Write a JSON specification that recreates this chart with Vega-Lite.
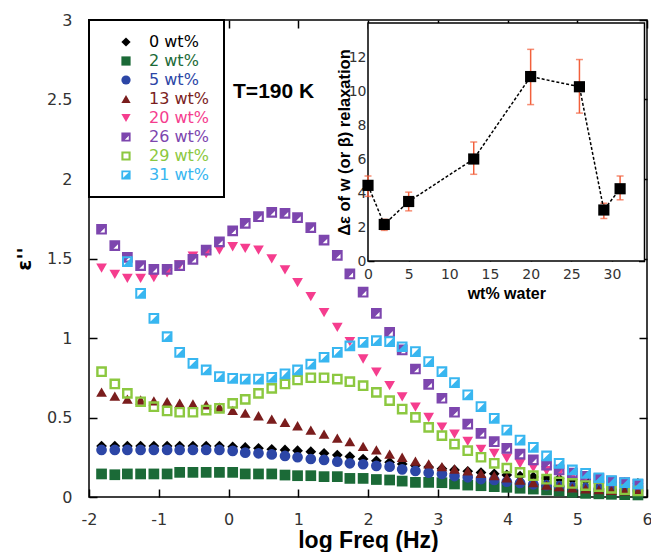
{
"$schema": "https://vega.github.io/schema/vega-lite/v6.json",
"width": 558, "height": 477,
"autosize": "none",
"padding": {"left": 89, "top": 20, "right": 4, "bottom": 55},
"background": "white",
"datasets": {
"main": [
{"s":"0 wt%","f":-1.82,"e":0.32},{"s":"0 wt%","f":-1.63,"e":0.32},{"s":"0 wt%","f":-1.45,"e":0.32},{"s":"0 wt%","f":-1.26,"e":0.32},{"s":"0 wt%","f":-1.07,"e":0.32},{"s":"0 wt%","f":-0.88,"e":0.32},{"s":"0 wt%","f":-0.7,"e":0.32},{"s":"0 wt%","f":-0.51,"e":0.32},{"s":"0 wt%","f":-0.32,"e":0.32},{"s":"0 wt%","f":-0.13,"e":0.32},{"s":"0 wt%","f":0.06,"e":0.316},{"s":"0 wt%","f":0.24,"e":0.312},{"s":"0 wt%","f":0.43,"e":0.306},{"s":"0 wt%","f":0.62,"e":0.3},{"s":"0 wt%","f":0.81,"e":0.296},{"s":"0 wt%","f":0.99,"e":0.291},{"s":"0 wt%","f":1.18,"e":0.285},{"s":"0 wt%","f":1.37,"e":0.275},{"s":"0 wt%","f":1.56,"e":0.264},{"s":"0 wt%","f":1.74,"e":0.254},{"s":"0 wt%","f":1.93,"e":0.239},{"s":"0 wt%","f":2.12,"e":0.228},{"s":"0 wt%","f":2.31,"e":0.218},{"s":"0 wt%","f":2.49,"e":0.208},{"s":"0 wt%","f":2.68,"e":0.198},{"s":"0 wt%","f":2.87,"e":0.188},{"s":"0 wt%","f":3.06,"e":0.178},{"s":"0 wt%","f":3.24,"e":0.17},{"s":"0 wt%","f":3.43,"e":0.162},{"s":"0 wt%","f":3.62,"e":0.154},{"s":"0 wt%","f":3.81,"e":0.146},{"s":"0 wt%","f":3.99,"e":0.139},{"s":"0 wt%","f":4.18,"e":0.132},{"s":"0 wt%","f":4.37,"e":0.126},{"s":"0 wt%","f":4.56,"e":0.12},{"s":"0 wt%","f":4.74,"e":0.115},{"s":"0 wt%","f":4.93,"e":0.11},{"s":"0 wt%","f":5.12,"e":0.105},{"s":"0 wt%","f":5.31,"e":0.1},{"s":"0 wt%","f":5.49,"e":0.095},{"s":"0 wt%","f":5.68,"e":0.09},{"s":"0 wt%","f":5.87,"e":0.085},
{"s":"2 wt%","f":-1.82,"e":0.145},{"s":"2 wt%","f":-1.63,"e":0.14},{"s":"2 wt%","f":-1.45,"e":0.145},{"s":"2 wt%","f":-1.26,"e":0.145},{"s":"2 wt%","f":-1.07,"e":0.145},{"s":"2 wt%","f":-0.88,"e":0.145},{"s":"2 wt%","f":-0.7,"e":0.155},{"s":"2 wt%","f":-0.51,"e":0.155},{"s":"2 wt%","f":-0.32,"e":0.155},{"s":"2 wt%","f":-0.13,"e":0.155},{"s":"2 wt%","f":0.06,"e":0.155},{"s":"2 wt%","f":0.24,"e":0.145},{"s":"2 wt%","f":0.43,"e":0.145},{"s":"2 wt%","f":0.62,"e":0.145},{"s":"2 wt%","f":0.81,"e":0.138},{"s":"2 wt%","f":0.99,"e":0.134},{"s":"2 wt%","f":1.18,"e":0.134},{"s":"2 wt%","f":1.37,"e":0.128},{"s":"2 wt%","f":1.56,"e":0.128},{"s":"2 wt%","f":1.74,"e":0.117},{"s":"2 wt%","f":1.93,"e":0.117},{"s":"2 wt%","f":2.12,"e":0.11},{"s":"2 wt%","f":2.31,"e":0.107},{"s":"2 wt%","f":2.49,"e":0.1},{"s":"2 wt%","f":2.68,"e":0.092},{"s":"2 wt%","f":2.87,"e":0.092},{"s":"2 wt%","f":3.06,"e":0.09},{"s":"2 wt%","f":3.24,"e":0.082},{"s":"2 wt%","f":3.43,"e":0.075},{"s":"2 wt%","f":3.62,"e":0.071},{"s":"2 wt%","f":3.81,"e":0.065},{"s":"2 wt%","f":3.99,"e":0.061},{"s":"2 wt%","f":4.18,"e":0.055},{"s":"2 wt%","f":4.37,"e":0.05},{"s":"2 wt%","f":4.56,"e":0.044},{"s":"2 wt%","f":4.74,"e":0.038},{"s":"2 wt%","f":4.93,"e":0.03},{"s":"2 wt%","f":5.12,"e":0.023},{"s":"2 wt%","f":5.31,"e":0.02},{"s":"2 wt%","f":5.49,"e":0.017},{"s":"2 wt%","f":5.68,"e":0.015},{"s":"2 wt%","f":5.87,"e":0.013},
{"s":"5 wt%","f":-1.82,"e":0.296},{"s":"5 wt%","f":-1.63,"e":0.296},{"s":"5 wt%","f":-1.45,"e":0.296},{"s":"5 wt%","f":-1.26,"e":0.296},{"s":"5 wt%","f":-1.07,"e":0.296},{"s":"5 wt%","f":-0.88,"e":0.296},{"s":"5 wt%","f":-0.7,"e":0.296},{"s":"5 wt%","f":-0.51,"e":0.296},{"s":"5 wt%","f":-0.32,"e":0.296},{"s":"5 wt%","f":-0.13,"e":0.296},{"s":"5 wt%","f":0.06,"e":0.29},{"s":"5 wt%","f":0.24,"e":0.279},{"s":"5 wt%","f":0.43,"e":0.275},{"s":"5 wt%","f":0.62,"e":0.268},{"s":"5 wt%","f":0.81,"e":0.258},{"s":"5 wt%","f":0.99,"e":0.25},{"s":"5 wt%","f":1.18,"e":0.239},{"s":"5 wt%","f":1.37,"e":0.233},{"s":"5 wt%","f":1.56,"e":0.222},{"s":"5 wt%","f":1.74,"e":0.212},{"s":"5 wt%","f":1.93,"e":0.206},{"s":"5 wt%","f":2.12,"e":0.196},{"s":"5 wt%","f":2.31,"e":0.191},{"s":"5 wt%","f":2.49,"e":0.174},{"s":"5 wt%","f":2.68,"e":0.164},{"s":"5 wt%","f":2.87,"e":0.153},{"s":"5 wt%","f":3.06,"e":0.145},{"s":"5 wt%","f":3.24,"e":0.132},{"s":"5 wt%","f":3.43,"e":0.124},{"s":"5 wt%","f":3.62,"e":0.113},{"s":"5 wt%","f":3.81,"e":0.107},{"s":"5 wt%","f":3.99,"e":0.096},{"s":"5 wt%","f":4.18,"e":0.088},{"s":"5 wt%","f":4.37,"e":0.08},{"s":"5 wt%","f":4.56,"e":0.074},{"s":"5 wt%","f":4.74,"e":0.068},{"s":"5 wt%","f":4.93,"e":0.062},{"s":"5 wt%","f":5.12,"e":0.057},{"s":"5 wt%","f":5.31,"e":0.052},{"s":"5 wt%","f":5.49,"e":0.048},{"s":"5 wt%","f":5.68,"e":0.044},{"s":"5 wt%","f":5.87,"e":0.04},
{"s":"13 wt%","f":-1.82,"e":0.66},{"s":"13 wt%","f":-1.63,"e":0.635},{"s":"13 wt%","f":-1.45,"e":0.615},{"s":"13 wt%","f":-1.26,"e":0.61},{"s":"13 wt%","f":-1.07,"e":0.605},{"s":"13 wt%","f":-0.88,"e":0.6},{"s":"13 wt%","f":-0.7,"e":0.59},{"s":"13 wt%","f":-0.51,"e":0.585},{"s":"13 wt%","f":-0.32,"e":0.58},{"s":"13 wt%","f":-0.13,"e":0.565},{"s":"13 wt%","f":0.06,"e":0.545},{"s":"13 wt%","f":0.24,"e":0.527},{"s":"13 wt%","f":0.43,"e":0.511},{"s":"13 wt%","f":0.62,"e":0.49},{"s":"13 wt%","f":0.81,"e":0.47},{"s":"13 wt%","f":0.99,"e":0.448},{"s":"13 wt%","f":1.18,"e":0.421},{"s":"13 wt%","f":1.37,"e":0.396},{"s":"13 wt%","f":1.56,"e":0.37},{"s":"13 wt%","f":1.74,"e":0.348},{"s":"13 wt%","f":1.93,"e":0.318},{"s":"13 wt%","f":2.12,"e":0.296},{"s":"13 wt%","f":2.31,"e":0.27},{"s":"13 wt%","f":2.49,"e":0.25},{"s":"13 wt%","f":2.68,"e":0.226},{"s":"13 wt%","f":2.87,"e":0.208},{"s":"13 wt%","f":3.06,"e":0.191},{"s":"13 wt%","f":3.24,"e":0.176},{"s":"13 wt%","f":3.43,"e":0.164},{"s":"13 wt%","f":3.62,"e":0.149},{"s":"13 wt%","f":3.81,"e":0.134},{"s":"13 wt%","f":3.99,"e":0.121},{"s":"13 wt%","f":4.18,"e":0.107},{"s":"13 wt%","f":4.37,"e":0.09},{"s":"13 wt%","f":4.56,"e":0.075},{"s":"13 wt%","f":4.74,"e":0.065},{"s":"13 wt%","f":4.93,"e":0.058},{"s":"13 wt%","f":5.12,"e":0.052},{"s":"13 wt%","f":5.31,"e":0.047},{"s":"13 wt%","f":5.49,"e":0.042},{"s":"13 wt%","f":5.68,"e":0.038},{"s":"13 wt%","f":5.87,"e":0.035},
{"s":"20 wt%","f":-1.82,"e":1.44},{"s":"20 wt%","f":-1.63,"e":1.4},{"s":"20 wt%","f":-1.45,"e":1.375},{"s":"20 wt%","f":-1.26,"e":1.375},{"s":"20 wt%","f":-1.07,"e":1.38},{"s":"20 wt%","f":-0.88,"e":1.41},{"s":"20 wt%","f":-0.7,"e":1.46},{"s":"20 wt%","f":-0.51,"e":1.515},{"s":"20 wt%","f":-0.32,"e":1.53},{"s":"20 wt%","f":-0.13,"e":1.553},{"s":"20 wt%","f":0.06,"e":1.574},{"s":"20 wt%","f":0.24,"e":1.564},{"s":"20 wt%","f":0.43,"e":1.553},{"s":"20 wt%","f":0.62,"e":1.497},{"s":"20 wt%","f":0.81,"e":1.428},{"s":"20 wt%","f":0.99,"e":1.348},{"s":"20 wt%","f":1.18,"e":1.26},{"s":"20 wt%","f":1.37,"e":1.159},{"s":"20 wt%","f":1.56,"e":1.067},{"s":"20 wt%","f":1.74,"e":0.977},{"s":"20 wt%","f":1.93,"e":0.868},{"s":"20 wt%","f":2.12,"e":0.785},{"s":"20 wt%","f":2.31,"e":0.7},{"s":"20 wt%","f":2.49,"e":0.63},{"s":"20 wt%","f":2.68,"e":0.565},{"s":"20 wt%","f":2.87,"e":0.5},{"s":"20 wt%","f":3.06,"e":0.44},{"s":"20 wt%","f":3.24,"e":0.395},{"s":"20 wt%","f":3.43,"e":0.35},{"s":"20 wt%","f":3.62,"e":0.3},{"s":"20 wt%","f":3.81,"e":0.275},{"s":"20 wt%","f":3.99,"e":0.245},{"s":"20 wt%","f":4.18,"e":0.21},{"s":"20 wt%","f":4.37,"e":0.185},{"s":"20 wt%","f":4.56,"e":0.165},{"s":"20 wt%","f":4.74,"e":0.15},{"s":"20 wt%","f":4.93,"e":0.135},{"s":"20 wt%","f":5.12,"e":0.12},{"s":"20 wt%","f":5.31,"e":0.105},{"s":"20 wt%","f":5.49,"e":0.095},{"s":"20 wt%","f":5.68,"e":0.085},{"s":"20 wt%","f":5.87,"e":0.075},
{"s":"26 wt%","f":-1.82,"e":1.684},{"s":"26 wt%","f":-1.63,"e":1.581},{"s":"26 wt%","f":-1.45,"e":1.507},{"s":"26 wt%","f":-1.26,"e":1.455},{"s":"26 wt%","f":-1.07,"e":1.432},{"s":"26 wt%","f":-0.88,"e":1.432},{"s":"26 wt%","f":-0.7,"e":1.455},{"s":"26 wt%","f":-0.51,"e":1.495},{"s":"26 wt%","f":-0.32,"e":1.553},{"s":"26 wt%","f":-0.13,"e":1.605},{"s":"26 wt%","f":0.06,"e":1.674},{"s":"26 wt%","f":0.24,"e":1.721},{"s":"26 wt%","f":0.43,"e":1.763},{"s":"26 wt%","f":0.62,"e":1.79},{"s":"26 wt%","f":0.81,"e":1.784},{"s":"26 wt%","f":0.99,"e":1.757},{"s":"26 wt%","f":1.18,"e":1.694},{"s":"26 wt%","f":1.37,"e":1.616},{"s":"26 wt%","f":1.56,"e":1.52},{"s":"26 wt%","f":1.74,"e":1.403},{"s":"26 wt%","f":1.93,"e":1.288},{"s":"26 wt%","f":2.12,"e":1.155},{"s":"26 wt%","f":2.31,"e":1.035},{"s":"26 wt%","f":2.49,"e":0.925},{"s":"26 wt%","f":2.68,"e":0.805},{"s":"26 wt%","f":2.87,"e":0.709},{"s":"26 wt%","f":3.06,"e":0.621},{"s":"26 wt%","f":3.24,"e":0.533},{"s":"26 wt%","f":3.43,"e":0.459},{"s":"26 wt%","f":3.62,"e":0.4},{"s":"26 wt%","f":3.81,"e":0.348},{"s":"26 wt%","f":3.99,"e":0.306},{"s":"26 wt%","f":4.18,"e":0.27},{"s":"26 wt%","f":4.37,"e":0.233},{"s":"26 wt%","f":4.56,"e":0.201},{"s":"26 wt%","f":4.74,"e":0.17},{"s":"26 wt%","f":4.93,"e":0.15},{"s":"26 wt%","f":5.12,"e":0.13},{"s":"26 wt%","f":5.31,"e":0.115},{"s":"26 wt%","f":5.49,"e":0.1},{"s":"26 wt%","f":5.68,"e":0.09},{"s":"26 wt%","f":5.87,"e":0.08},
{"s":"29 wt%","f":-1.82,"e":0.788},{"s":"29 wt%","f":-1.63,"e":0.711},{"s":"29 wt%","f":-1.45,"e":0.652},{"s":"29 wt%","f":-1.26,"e":0.599},{"s":"29 wt%","f":-1.07,"e":0.568},{"s":"29 wt%","f":-0.88,"e":0.541},{"s":"29 wt%","f":-0.7,"e":0.533},{"s":"29 wt%","f":-0.51,"e":0.533},{"s":"29 wt%","f":-0.32,"e":0.547},{"s":"29 wt%","f":-0.13,"e":0.558},{"s":"29 wt%","f":0.06,"e":0.589},{"s":"29 wt%","f":0.24,"e":0.614},{"s":"29 wt%","f":0.43,"e":0.652},{"s":"29 wt%","f":0.62,"e":0.683},{"s":"29 wt%","f":0.81,"e":0.711},{"s":"29 wt%","f":0.99,"e":0.736},{"s":"29 wt%","f":1.18,"e":0.75},{"s":"29 wt%","f":1.37,"e":0.75},{"s":"29 wt%","f":1.56,"e":0.742},{"s":"29 wt%","f":1.74,"e":0.725},{"s":"29 wt%","f":1.93,"e":0.7},{"s":"29 wt%","f":2.12,"e":0.658},{"s":"29 wt%","f":2.31,"e":0.606},{"s":"29 wt%","f":2.49,"e":0.553},{"s":"29 wt%","f":2.68,"e":0.501},{"s":"29 wt%","f":2.87,"e":0.438},{"s":"29 wt%","f":3.06,"e":0.386},{"s":"29 wt%","f":3.24,"e":0.333},{"s":"29 wt%","f":3.43,"e":0.291},{"s":"29 wt%","f":3.62,"e":0.25},{"s":"29 wt%","f":3.81,"e":0.212},{"s":"29 wt%","f":3.99,"e":0.181},{"s":"29 wt%","f":4.18,"e":0.155},{"s":"29 wt%","f":4.37,"e":0.134},{"s":"29 wt%","f":4.56,"e":0.112},{"s":"29 wt%","f":4.74,"e":0.095},{"s":"29 wt%","f":4.93,"e":0.085},{"s":"29 wt%","f":5.12,"e":0.072},{"s":"29 wt%","f":5.31,"e":0.065},{"s":"29 wt%","f":5.49,"e":0.054},{"s":"29 wt%","f":5.68,"e":0.046},{"s":"29 wt%","f":5.87,"e":0.038},
{"s":"31 wt%","f":-1.82,"e":2.45},{"s":"31 wt%","f":-1.63,"e":1.95},{"s":"31 wt%","f":-1.45,"e":1.48},{"s":"31 wt%","f":-1.26,"e":1.281},{"s":"31 wt%","f":-1.07,"e":1.124},{"s":"31 wt%","f":-0.88,"e":1.008},{"s":"31 wt%","f":-0.7,"e":0.91},{"s":"31 wt%","f":-0.51,"e":0.841},{"s":"31 wt%","f":-0.32,"e":0.799},{"s":"31 wt%","f":-0.13,"e":0.757},{"s":"31 wt%","f":0.06,"e":0.746},{"s":"31 wt%","f":0.24,"e":0.742},{"s":"31 wt%","f":0.43,"e":0.742},{"s":"31 wt%","f":0.62,"e":0.753},{"s":"31 wt%","f":0.81,"e":0.774},{"s":"31 wt%","f":0.99,"e":0.799},{"s":"31 wt%","f":1.18,"e":0.835},{"s":"31 wt%","f":1.37,"e":0.879},{"s":"31 wt%","f":1.56,"e":0.91},{"s":"31 wt%","f":1.74,"e":0.95},{"s":"31 wt%","f":1.93,"e":0.973},{"s":"31 wt%","f":2.12,"e":0.983},{"s":"31 wt%","f":2.31,"e":0.977},{"s":"31 wt%","f":2.49,"e":0.945},{"s":"31 wt%","f":2.68,"e":0.914},{"s":"31 wt%","f":2.87,"e":0.851},{"s":"31 wt%","f":3.06,"e":0.788},{"s":"31 wt%","f":3.24,"e":0.719},{"s":"31 wt%","f":3.43,"e":0.642},{"s":"31 wt%","f":3.62,"e":0.568},{"s":"31 wt%","f":3.81,"e":0.495},{"s":"31 wt%","f":3.99,"e":0.421},{"s":"31 wt%","f":4.18,"e":0.358},{"s":"31 wt%","f":4.37,"e":0.312},{"s":"31 wt%","f":4.56,"e":0.258},{"s":"31 wt%","f":4.74,"e":0.212},{"s":"31 wt%","f":4.93,"e":0.17},{"s":"31 wt%","f":5.12,"e":0.149},{"s":"31 wt%","f":5.31,"e":0.121},{"s":"31 wt%","f":5.49,"e":0.103},{"s":"31 wt%","f":5.68,"e":0.09},{"s":"31 wt%","f":5.87,"e":0.082}
],
"inset": [
{"wt":0,"d":4.45,"lo":3.8,"hi":5.0},{"wt":2,"d":2.15,"lo":1.8,"hi":2.45},{"wt":5,"d":3.5,"lo":2.95,"hi":4.05},{"wt":13,"d":6.0,"lo":5.1,"hi":7.0},{"wt":20,"d":10.85,"lo":9.2,"hi":12.45},{"wt":26,"d":10.25,"lo":8.7,"hi":11.85},{"wt":29,"d":3.0,"lo":2.5,"hi":3.4},{"wt":31,"d":4.25,"lo":3.6,"hi":5.0}
],
"frame": [{"x0":0,"x1":34,"y0":0,"y1":14}],
"note": [{"f":0.065,"e":2.55,"t":"T=190 K"}]
},
"layer": [
{
"data": {"name": "main"},
"mark": {"type": "point", "filled": true, "size": 115, "opacity": 1},
"encoding": {
"x": {"field": "f", "type": "quantitative", "scale": {"domain": [-2, 6], "nice": false, "zero": false},
"axis": {"orient": "bottom", "values": [-2,-1,0,1,2,3,4,5,6], "labelExpr": "'' + datum.value", "title": "log Freq (Hz)", "labelFontSize": 16, "tickSize": -8, "labelPadding": 22, "titleFontSize": 23, "titlePadding": 2}},
"y": {"field": "e", "type": "quantitative", "scale": {"domain": [0, 3], "nice": false, "zero": false},
"axis": {"orient": "left", "values": [0,0.5,1,1.5,2,2.5,3], "labelExpr": "'' + datum.value", "title": "ε''", "labelFontSize": 16, "tickSize": -8, "labelPadding": 25, "titleFontSize": 20, "titleFont": "DejaVu Sans", "titlePadding": 12}},
"color": {"field": "s", "type": "nominal",
"scale": {"domain": ["0 wt%","2 wt%","5 wt%","13 wt%","20 wt%","26 wt%","29 wt%","31 wt%"], "range": ["#000000","#1b6a37","#2c46a6","#7a1d1d","#f53d8e","#7d46ae","#8cc840","#38b6f0"]},
"legend": {"title": null, "zindex": 2, "encode": {"labels": {"update": {"fill": {"scale": "color", "field": "value"}}}}}},
"shape": {"field": "s", "type": "nominal",
"scale": {"domain": ["0 wt%","2 wt%","5 wt%","13 wt%","20 wt%","26 wt%","29 wt%","31 wt%"], "range": ["diamond","square","circle","triangle-up","triangle-down","M-1,-1H1V1H-1Z M0.6,-0.25L-0.25,0.6H0.6Z","M-1,-1H1V1H-1Z M-0.55,-0.55V0.55H0.55V-0.55Z","M-1,-1H1V1H-1Z M-0.62,-0.62V0.62H0.62V-0.62Z M0.62,-0.62V0.62H-0.62Z"]},
"legend": {"title": null, "zindex": 2}}
}
},
{
"data": {"name": "note"},
"mark": {"type": "text", "align": "left", "baseline": "middle", "font": "Liberation Sans", "fontWeight": "bold", "fontSize": 21, "color": "black"},
"encoding": {
"x": {"field": "f", "type": "quantitative", "scale": {"domain": [-2, 6], "nice": false, "zero": false},
"axis": {"orient": "top", "values": [-2,-1,0,1,2,3,4,5,6], "labels": false, "tickSize": -8, "title": null}},
"y": {"field": "e", "type": "quantitative", "scale": {"domain": [0, 3], "nice": false, "zero": false},
"axis": {"orient": "right", "values": [0,0.5,1,1.5,2,2.5,3], "labels": false, "tickSize": -8, "title": null}},
"text": {"field": "t"}
}
},
{
"layer": [
{
"data": {"name": "frame"},
"mark": {"type": "rect", "fill": "white", "stroke": "black", "strokeWidth": 1.5},
"encoding": {
"x": {"field": "x0", "type": "quantitative", "scale": {"domain": [0, 34], "range": [279, 555.5], "nice": false, "zero": false},
"axis": {"orient": "bottom", "offset": -236, "values": [0,5,10,15,20,25,30], "title": "wt% water", "labelFontSize": 14, "tickSize": -6, "labelPadding": 12, "titleFontSize": 16, "titlePadding": 4}},
"x2": {"field": "x1"},
"y": {"field": "y0", "type": "quantitative", "scale": {"domain": [0, 14], "range": [241, 3], "nice": false, "zero": false},
"axis": {"orient": "left", "offset": -279, "values": [0,2,4,6,8,10,12], "title": "Δε of w (or β) relaxation", "labelFontSize": 14, "tickSize": -6, "labelPadding": 8, "titleFontSize": 16.5, "titlePadding": -4}},
"y2": {"field": "y1"}
}
},
{
"data": {"name": "inset"},
"mark": {"type": "rule", "color": "#f2603c", "strokeWidth": 1.5},
"encoding": {"x": {"field": "wt", "type": "quantitative"}, "y": {"field": "lo", "type": "quantitative"}, "y2": {"field": "hi"}}
},
{
"data": {"name": "inset"},
"mark": {"type": "tick", "orient": "horizontal", "color": "#f2603c", "size": 7, "thickness": 1.5},
"encoding": {"x": {"field": "wt", "type": "quantitative"}, "y": {"field": "lo", "type": "quantitative"}}
},
{
"data": {"name": "inset"},
"mark": {"type": "tick", "orient": "horizontal", "color": "#f2603c", "size": 7, "thickness": 1.5},
"encoding": {"x": {"field": "wt", "type": "quantitative"}, "y": {"field": "hi", "type": "quantitative"}}
},
{
"data": {"name": "inset"},
"mark": {"type": "line", "color": "black", "strokeDash": [3, 2], "strokeWidth": 1.5},
"encoding": {"x": {"field": "wt", "type": "quantitative"}, "y": {"field": "d", "type": "quantitative"}}
},
{
"data": {"name": "inset"},
"mark": {"type": "point", "shape": "square", "filled": true, "color": "black", "size": 125, "opacity": 1},
"encoding": {"x": {"field": "wt", "type": "quantitative"}, "y": {"field": "d", "type": "quantitative"}}
}
]
},
{
"data": {"name": "inset"},
"mark": {"type": "point", "opacity": 0},
"encoding": {
"x": {"field": "wt", "type": "quantitative", "scale": {"domain": [0, 34], "range": [279, 555.5], "nice": false, "zero": false},
"axis": {"orient": "top", "offset": -3, "values": [0,2.5,5,7.5,10,12.5,15,17.5,20,22.5,25,27.5,30,32.5], "labels": false, "tickSize": -6, "title": null}},
"y": {"field": "d", "type": "quantitative", "scale": {"domain": [0, 14], "range": [241, 3], "nice": false, "zero": false},
"axis": {"orient": "right", "offset": -2.5, "values": [0,2,4,6,8,10,12], "labels": false, "tickSize": -6, "title": null}}
}
}
],
"resolve": {"scale": {"x": "independent", "y": "independent"}, "axis": {"x": "independent", "y": "independent"}},
"config": {
"view": {"stroke": "black", "strokeWidth": 1.5},
"axis": {"grid": false, "domain": false, "zindex": 1, "tickColor": "black", "tickWidth": 1.5, "labelColor": "#333333", "labelFont": "DejaVu Sans", "titleFont": "Liberation Sans", "titleFontWeight": "bold", "titleColor": "black", "labelFlush": false, "labelOverlap": false},
"legend": {"orient": "top-left", "offset": 0, "padding": 14, "fillColor": "white", "strokeColor": "black", "strokeWidth": 2, "labelFont": "DejaVu Sans", "labelFontSize": 16, "symbolSize": 85, "symbolOpacity": 1, "rowPadding": 3, "symbolOffset": 15, "labelOffset": 15, "symbolStrokeWidth": 0}
}
}
